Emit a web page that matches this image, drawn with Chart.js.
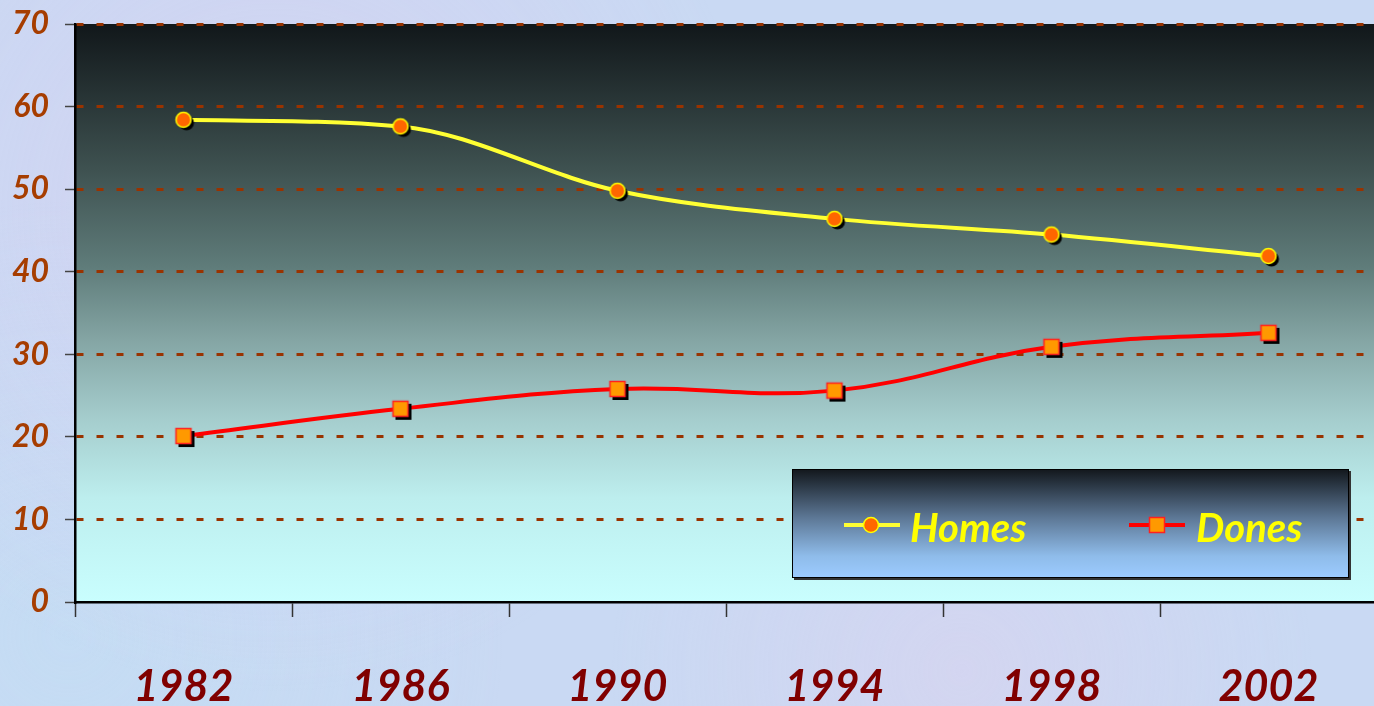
<!DOCTYPE html>
<html>
<head>
<meta charset="utf-8">
<script src="https://cdn.jsdelivr.net/npm/chart.js@4.4.0/dist/chart.umd.min.js"></script>
<style>
  html, body { margin: 0; padding: 0; overflow: hidden; }
  body {
    width: 1374px; height: 706px;
    background-color: #c9d9f3;
    background-image:
      radial-gradient(circle at 20% 30%, rgba(230,200,240,0.35), transparent 40%),
      radial-gradient(circle at 70% 95%, rgba(235,205,235,0.3), transparent 30%),
      radial-gradient(circle at 5% 90%, rgba(190,225,245,0.4), transparent 30%);
  }
  #wrap { position: absolute; left: 0; top: 0; width: 1385px; height: 706px; }
</style>
</head>
<body>
<div id="wrap"><canvas id="mycanvas"></canvas></div>
<script>
var years = ['1982', '1986', '1990', '1994', '1998', '2002'];
var homes = [58.4, 57.6, 49.8, 46.4, 44.5, 41.9];
var dones = [20.1, 23.4, 25.8, 25.6, 30.9, 32.6];
var yTicks = [0, 10, 20, 30, 40, 50, 60, 70];

var FONT = 'Lato, "DejaVu Sans", sans-serif';

// point images with the little black drop shadow
function makeCircle(shadow) {
  var c = document.createElement('canvas');
  c.width = 30; c.height = 30;
  var g = c.getContext('2d');
  if (shadow) {
    g.fillStyle = '#000';
    g.beginPath(); g.arc(18, 18, 7.5, 0, Math.PI * 2); g.fill();
  }
  g.fillStyle = '#ff6600';
  g.strokeStyle = '#ffff00';
  g.lineWidth = 1.5;
  g.beginPath(); g.arc(15, 15, 7.5, 0, Math.PI * 2); g.fill(); g.stroke();
  return c;
}
function makeSquare(shadow) {
  var c = document.createElement('canvas');
  c.width = 30; c.height = 30;
  var g = c.getContext('2d');
  if (shadow) {
    g.fillStyle = '#000';
    g.fillRect(10, 10, 16, 16);
  }
  g.fillStyle = '#ff9900';
  g.fillRect(7, 7, 16, 16);
  g.strokeStyle = '#ff2020';
  g.lineWidth = 1.5;
  g.strokeRect(7.5, 7.5, 15, 15);
  return c;
}
var circleImg = makeCircle(true);
var squareImg = makeSquare(true);

var plotBg = {
  id: 'plotBg',
  beforeDraw: function(chart) {
    var a = chart.chartArea, ctx = chart.ctx;
    var gr = ctx.createLinearGradient(0, a.top, 0, a.bottom);
    gr.addColorStop(0, '#11171a');
    gr.addColorStop(0.25, '#3e5150');
    gr.addColorStop(0.42, '#5f7c7a');
    gr.addColorStop(0.55, '#85a6a5');
    gr.addColorStop(0.68, '#a4cccc');
    gr.addColorStop(0.82, '#bdeeee');
    gr.addColorStop(1, '#c9fefe');
    ctx.save();
    ctx.fillStyle = gr;
    ctx.fillRect(a.left, a.top, a.right - a.left, a.bottom - a.top);
    ctx.restore();
  }
};

var legendBox = {
  id: 'legendBox',
  afterDatasetsDraw: function(chart) {
    var ctx = chart.ctx;
    var x = 792, y = 469, w = 557, h = 109;
    ctx.save();
    ctx.fillStyle = '#333';
    ctx.fillRect(x + 2, y + 2, w, h);
    var gr = ctx.createLinearGradient(0, y, 0, y + h);
    gr.addColorStop(0, '#12171c');
    gr.addColorStop(0.45, '#5d7896');
    gr.addColorStop(0.8, '#8fbcea');
    gr.addColorStop(1, '#9ccbff');
    ctx.fillStyle = gr;
    ctx.fillRect(x, y, w, h);
    ctx.strokeStyle = '#000';
    ctx.lineWidth = 1;
    ctx.strokeRect(x + 0.5, y + 0.5, w - 1, h - 1);

    var ly = 525;
    ctx.lineWidth = 4;
    ctx.strokeStyle = '#ffff33';
    ctx.beginPath(); ctx.moveTo(844, ly); ctx.lineTo(900, ly); ctx.stroke();
    ctx.drawImage(makeCircle(false), 871 - 15, ly - 15);
    ctx.strokeStyle = '#ff0000';
    ctx.beginPath(); ctx.moveTo(1129, ly); ctx.lineTo(1185, ly); ctx.stroke();
    ctx.drawImage(makeSquare(false), 1157 - 15, ly - 15);

    ctx.fillStyle = '#ffff00';
    ctx.font = 'italic bold 40px ' + FONT;
    ctx.textBaseline = 'alphabetic';
    ctx.fillText('Homes', 910, 542);
    ctx.fillText('Dones', 1196, 542);
    ctx.restore();
  }
};

var ctx = document.getElementById('mycanvas');
var chart = new Chart(ctx, {
  type: 'line',
  data: {
    labels: years,
    datasets: [
      {
        label: 'Homes',
        data: homes,
        borderColor: '#ffff33',
        borderWidth: 4,
        cubicInterpolationMode: 'monotone',
        pointStyle: circleImg,
        clip: false
      },
      {
        label: 'Dones',
        data: dones,
        borderColor: '#ff0000',
        borderWidth: 4,
        tension: 0.4,
        pointStyle: squareImg,
        clip: false
      }
    ]
  },
  plugins: [plotBg, legendBox],
  options: {
    responsive: true,
    maintainAspectRatio: false,
    animation: false,
    layout: { padding: { top: 24, right: 0, left: 0, bottom: 0 } },
    plugins: {
      legend: { display: false },
      tooltip: { enabled: false }
    },
    scales: {
      x: {
        type: 'category',
        offset: true,
        afterFit: function(s) { s.height = 104; },
        border: { display: true, color: '#000', width: 2.5 },
        grid: {
          offset: true,
          drawOnChartArea: false,
          drawTicks: true,
          tickLength: 15,
          tickColor: '#333',
          tickWidth: 1.5
        },
        ticks: {
          color: '#800000',
          font: { family: FONT, size: 43, weight: 'bold', style: 'italic' },
          padding: 44,
          maxRotation: 0
        }
      },
      y: {
        min: 0,
        max: 70,
        afterFit: function(s) { s.width = 75; s.paddingTop = 0; s.paddingBottom = 0; },
        afterBuildTicks: function(s) { s.ticks = yTicks.map(function(v) { return { value: v }; }); },
        border: { display: true, color: '#000', width: 2.5, dash: [7, 13] },
        grid: {
          color: function(c) { return c.tick && c.tick.value === 0 ? 'rgba(0,0,0,0)' : '#993300'; },
          lineWidth: 3,
          drawTicks: true,
          tickLength: 10,
          tickColor: '#444',
          tickWidth: 1.5,
          tickBorderDash: []
        },
        ticks: {
          color: '#a63d00',
          font: { family: FONT, size: 32, weight: 'bold', style: 'italic' },
          padding: 16
        }
      }
    }
  }
});
</script>
</body>
</html>
